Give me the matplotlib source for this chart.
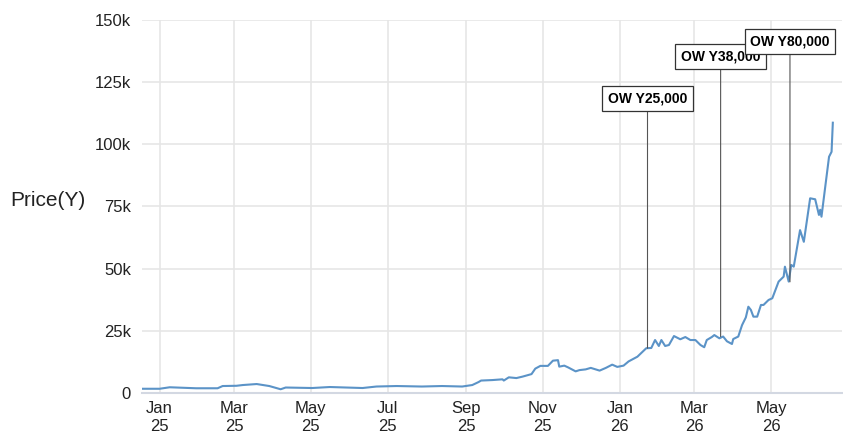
import matplotlib
matplotlib.use("Agg")
import matplotlib.pyplot as plt
import matplotlib.dates as mdates
import pandas as pd

plt.rcParams.update({
    "font.family": ["Liberation Sans", "DejaVu Sans"],
    "font.size": 12,
})

# price series (k = thousands)
dates = [
    "2024-12-18", "2025-01-01", "2025-01-09", "2025-01-30", "2025-02-16", "2025-02-20",
    "2025-03-03", "2025-03-08", "2025-03-19", "2025-03-29", "2025-04-07", "2025-04-11",
    "2025-05-02", "2025-05-16", "2025-06-11", "2025-06-22", "2025-07-08", "2025-07-28",
    "2025-08-13", "2025-08-29", "2025-09-06", "2025-09-11", "2025-09-13", "2025-09-22",
    "2025-09-30", "2025-10-01", "2025-10-05", "2025-10-11", "2025-10-16", "2025-10-23",
    "2025-10-26", "2025-10-30", "2025-11-05", "2025-11-09", "2025-11-13", "2025-11-14",
    "2025-11-18", "2025-11-21", "2025-11-24", "2025-11-27", "2025-11-30", "2025-12-05",
    "2025-12-09", "2025-12-16", "2025-12-21", "2025-12-26", "2025-12-30", "2026-01-04",
    "2026-01-08", "2026-01-15", "2026-01-22", "2026-01-26", "2026-01-29", "2026-02-01",
    "2026-02-03", "2026-02-06", "2026-02-09", "2026-02-13", "2026-02-18", "2026-02-22",
    "2026-02-26", "2026-03-02", "2026-03-06", "2026-03-09", "2026-03-11", "2026-03-15",
    "2026-03-17", "2026-03-21", "2026-03-24", "2026-03-27", "2026-03-31", "2026-04-01",
    "2026-04-05", "2026-04-08", "2026-04-11", "2026-04-13", "2026-04-15", "2026-04-17",
    "2026-04-20", "2026-04-23", "2026-04-25", "2026-04-29", "2026-05-02", "2026-05-07",
    "2026-05-11", "2026-05-12", "2026-05-15", "2026-05-17", "2026-05-19", "2026-05-24",
    "2026-05-27", "2026-06-01", "2026-06-05", "2026-06-08", "2026-06-09", "2026-06-10",
    "2026-06-13", "2026-06-16", "2026-06-18", "2026-06-19",
]
price_k = [
    1.7, 1.7, 2.3, 1.9, 1.9, 2.8,
    2.9, 3.2, 3.6, 2.8, 1.5, 2.2,
    2.0, 2.4, 2.0, 2.6, 2.8, 2.6,
    2.8, 2.6, 3.2, 4.4, 5.0, 5.2,
    5.5, 5.0, 6.3, 6.0, 6.6, 7.6,
    9.8, 10.9, 10.9, 13.0, 13.2, 10.6,
    11.0, 10.3, 9.5, 8.7, 9.2, 9.5,
    10.1, 9.0, 10.1, 11.4, 10.5, 11.0,
    12.7, 14.6, 18.0, 18.1, 21.3, 18.9,
    21.3, 18.9, 19.3, 22.9, 21.6, 22.5,
    21.3, 21.3, 19.3, 18.4, 21.3, 22.5,
    23.3, 22.0, 22.7, 20.8, 19.7, 21.7,
    22.7, 27.3, 30.4, 34.7, 33.4, 30.7,
    30.7, 35.4, 35.4, 37.4, 38.1, 44.8,
    46.8, 50.8, 44.8, 51.5, 50.8, 65.5,
    60.8, 78.3, 77.9, 71.6, 73.7, 70.9,
    83.0, 95.0, 97.0, 108.7,
]

# annotations: label, date, price at the date, label height
ann_labels = ["OW Y25,000", "OW Y38,000", "OW Y80,000"]
ann_dates = ["2026-01-23", "2026-03-22", "2026-05-16"]
ann_price_k = [18.0, 22.7, 44.7]
ann_box_k = [118.6, 135.3, 141.5]

x = pd.to_datetime(dates)
y = [v * 1000 for v in price_k]

fig = plt.figure(figsize=(8.43, 4.32), dpi=100)
ax = fig.add_axes([0.1684, 0.0903, 0.8300, 0.8634])

ax.plot(x, y, color="#5b93c7", lw=1.5, zorder=3)

for lab, d, p, b in zip(ann_labels, ann_dates, ann_price_k, ann_box_k):
    dd = pd.Timestamp(d)
    ax.annotate(lab, xy=(dd, p * 1000), xytext=(dd, b * 1000),
                ha="center", va="center", fontsize=10, fontweight="bold",
                bbox=dict(boxstyle="square,pad=0.4", fc="white", ec="#333333", lw=0.9),
                arrowprops=dict(arrowstyle="-", color="#555555", lw=0.8,
                                shrinkA=0, shrinkB=0),
                zorder=4)

ax.set_xlim(pd.Timestamp("2024-12-18"), pd.Timestamp("2026-06-26"))
ax.set_ylim(0, 150000)
ax.set_yticks([0, 25000, 50000, 75000, 100000, 125000, 150000])
ax.set_yticklabels(["0", "25k", "50k", "75k", "100k", "125k", "150k"])
ax.xaxis.set_major_locator(mdates.MonthLocator(bymonth=[1, 3, 5, 7, 9, 11]))
ax.xaxis.set_major_formatter(mdates.DateFormatter("%b\n%y"))
ax.tick_params(length=0, labelsize=12, colors="#222222")
ax.tick_params(axis="x", pad=6)
ax.tick_params(axis="y", pad=8)

# horizontal y label left of the tick labels
fig.text(10 / 843, 1 - 201 / 432, "Price(Y)", fontsize=15, ha="left", va="center",
         color="#222222")

ax.grid(True, color="#e6e6e6", lw=1.2)
ax.set_axisbelow(True)
for s in ["top", "right", "left"]:
    ax.spines[s].set_visible(False)
ax.spines["bottom"].set_color("#d3d8e2")
ax.spines["bottom"].set_linewidth(1.5)

fig.savefig("out.png", dpi=100)
